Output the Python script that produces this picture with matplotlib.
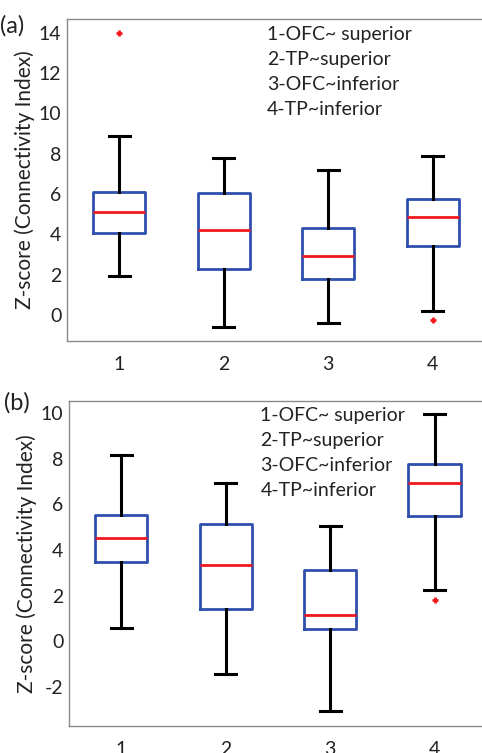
import matplotlib
matplotlib.use("Agg")
import matplotlib.pyplot as plt

plt.rcParams['font.family'] = ['Lato', 'DejaVu Sans']
plt.rcParams['axes.unicode_minus'] = False

positions = [1, 2, 3, 4]
tick_labels = ['1', '2', '3', '4']
legend_lines = ['1-OFC~ superior', '2-TP~superior', '3-OFC~inferior', '4-TP~inferior']

# panel (a) box statistics
a_whislo = [1.91, -0.58, -0.38, 0.18]
a_q1 = [4.06, 2.26, 1.76, 3.40]
a_med = [5.11, 4.23, 2.94, 4.86]
a_q3 = [6.10, 6.04, 4.31, 5.76]
a_whishi = [8.87, 7.80, 7.18, 7.91]
a_fliers = [[14.0], [], [], [-0.25]]

# panel (b)
b_whislo = [0.58, -1.41, -3.03, 2.25]
b_q1 = [3.47, 1.40, 0.54, 5.49]
b_med = [4.51, 3.36, 1.17, 6.92]
b_q3 = [5.52, 5.15, 3.13, 7.79]
b_whishi = [8.17, 6.92, 5.07, 9.95]
b_fliers = [[], [], [], [1.81]]


def make_stats(lo, q1, med, q3, hi, fl):
    return [dict(whislo=lo[i], q1=q1[i], med=med[i], q3=q3[i], whishi=hi[i],
                 fliers=fl[i]) for i in range(len(med))]


def draw_panel(ax, stats, ylim, yticks, text_x, text_y, label, label_xy):
    ax.bxp(stats, positions=positions, widths=0.5, showfliers=True,
           boxprops=dict(color='#2f4fae', linewidth=2),
           medianprops=dict(color='#f0181c', linewidth=2),
           whiskerprops=dict(color='black', linewidth=2.2),
           capprops=dict(color='black', linewidth=2.2),
           capwidths=0.2,
           flierprops=dict(marker='+', markeredgecolor='#f0181c',
                           markersize=5, markeredgewidth=2, linestyle='none'))
    ax.set_xlim(0.5, 4.5)
    ax.set_ylim(*ylim)
    ax.set_xticks(positions)
    ax.set_xticklabels(tick_labels)
    ax.set_yticks(yticks)
    ax.tick_params(length=0, labelsize=14, colors='#222222')
    ax.tick_params(axis='x', pad=11)
    ax.tick_params(axis='y', pad=4)
    for s in ax.spines.values():
        s.set_color('#8a8a8a')
        s.set_linewidth(1)
    ax.spines['right'].set_visible(False)  # falls outside the cropped figure
    ax.set_ylabel('Z-score (Connectivity Index)', fontsize=15, color='#222222',
                  labelpad=3)
    for i, t in enumerate(legend_lines):
        ax.text(text_x, text_y - i * 0.077, t, transform=ax.transAxes,
                fontsize=14, va='center', ha='left', color='#222222')
    fig.text(label_xy[0], label_xy[1], label, fontsize=17, ha='left',
             va='center', color='#222222')


fig = plt.figure(figsize=(4.82, 7.53), dpi=100)
ax1 = fig.add_axes([0.139, 0.547, 0.867, 0.428])
ax2 = fig.add_axes([0.143, 0.036, 0.867, 0.432])

draw_panel(ax1, make_stats(a_whislo, a_q1, a_med, a_q3, a_whishi, a_fliers),
           (-1.3, 14.7), [0, 2, 4, 6, 8, 10, 12, 14], 0.478, 0.95,
           '(a)', (0.0, 0.966))
draw_panel(ax2, make_stats(b_whislo, b_q1, b_med, b_q3, b_whishi, b_fliers),
           (-3.7, 10.55), [-2, 0, 2, 4, 6, 8, 10], 0.458, 0.955,
           '(b)', (0.008, 0.465))

fig.savefig('out.png', dpi=100)
